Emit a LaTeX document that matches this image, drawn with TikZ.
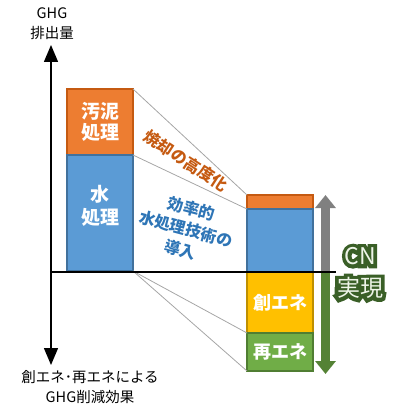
\documentclass[tikz,border=0pt]{standalone}
\usepackage{fontspec}
\setmainfont{Noto Sans CJK JP}
\newfontfamily\cnout{Noto Sans CJK JP}[FakeBold=32]
\newcommand\olch[1]{\rlap{\cnout #1}\phantom{#1}}
\usetikzlibrary{arrows.meta}
\definecolor{orf}{HTML}{ED7D31}
\definecolor{ord}{HTML}{C55A11}
\definecolor{blf}{HTML}{5B9BD5}
\definecolor{bld}{HTML}{41719C}
\definecolor{yef}{HTML}{FFC000}
\definecolor{yed}{HTML}{BF9000}
\definecolor{grf}{HTML}{70AD47}
\definecolor{grd}{HTML}{507E32}
\definecolor{cnd}{HTML}{3A5F27}
\definecolor{cnf}{HTML}{EEF4E8}
\definecolor{gtxt}{HTML}{C55A11}
\definecolor{btxt}{HTML}{2E75B6}
\definecolor{arrg}{HTML}{548235}
\begin{document}
\begin{tikzpicture}[x=1pt,y=-1pt,
  bar/.style={line width=2pt, inner sep=0pt, outer sep=0pt, anchor=north west,
    minimum width=66pt, text=white, font=\fontsize{19}{21}\selectfont\bfseries, align=center},
  conn/.style={draw=black!35, line width=0.8pt},
  axis/.style={line width=1.5pt, -{Triangle[width=14pt,length=17pt]}},
  lbl/.style={align=center, font=\fontsize{14.5}{20}\selectfont, inner sep=0pt},
  cn/.style={align=center, inner sep=0pt, font=\fontsize{23}{32}\selectfont}]
\useasboundingbox (0,0) rectangle (394,406);
% left bars
\node[bar, fill=orf, draw=ord, minimum height=66pt] (lo) at (67,89) {汚泥\\処理};
\node[bar, fill=blf, draw=bld, minimum height=116pt] (lb) at (67,155) {};
\node[font=\fontsize{19}{23}\selectfont\bfseries, text=white, align=center] (lbt) at (100,206) {水\\処理};
% right bars
\node[bar, fill=orf, draw=ord, minimum height=14pt] (ro) at (247,195) {};
\node[bar, fill=blf, draw=bld, minimum height=63pt] (rb) at (247,209) {};
\node[bar, fill=yef, draw=yed, minimum height=61pt, font=\fontsize{18}{20}\selectfont\bfseries] (ry) at (247,272) {創エネ};
\node[bar, fill=grf, draw=grd, minimum height=38pt, font=\fontsize{18}{20}\selectfont\bfseries] (rg) at (247,333) {再エネ};
% connectors
\draw[conn] (lo.north east) -- (ro.north west);
\draw[conn] (lo.south east) -- (rb.north west);
\draw[conn] (lb.south east) -- (ry.south west);
\draw[conn] (lb.south east) -- (rg.south west);
% axes
\coordinate (o) at (51,272);
\coordinate (ytop) at (51,45);
\coordinate (ybot) at (51,365);
\coordinate (xe) at (336,272);
\draw[axis] (o) -- (ytop);
\draw[axis] (o) -- (ybot);
% right double arrow
\coordinate (at) at (325.5,195);
\coordinate (am) at (325.5,272);
\coordinate (ab) at (325.5,374);
\draw[draw=black!50, line width=9pt, -{Triangle[width=20pt,length=13pt]}] (am) -- (at);
\draw[draw=arrg, line width=9pt, -{Triangle[width=20pt,length=13pt]}] (am) -- (ab);
\draw[line width=1.3pt] (o) -- (xe);
% axis labels
\node[lbl] (yl) at (52,24) {GHG\\排出量};
\node[lbl] (bl) at (90,387) {創エネ･再エネによる\\GHG削減効果};
% slanted texts
\node[rotate=-33, text=gtxt, font=\fontsize{16}{18}\selectfont\bfseries] (t1) at (186,161) {焼却の高度化};
\node[rotate=-15, text=btxt, align=center, font=\fontsize{16}{21}\selectfont\bfseries] (t2) at (186,229)
  {効率的\\水処理技術の\\導入};
% CN
\node[cn, text=cnd] (cnb) at (360,273) {\olch{C}\olch{N}\\\olch{実}\olch{現}};
\node[cn, text=cnf] (cn) at (360,273) {CN\\実現};
\end{tikzpicture}
\end{document}
